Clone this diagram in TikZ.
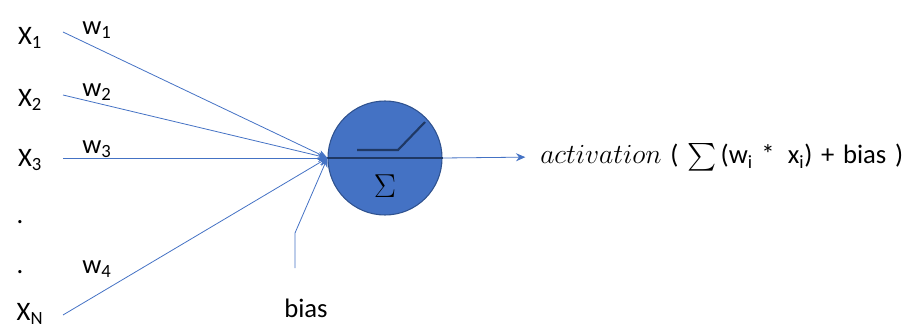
\documentclass[tikz,border=0pt]{standalone}
\usepackage{amsmath}
\usepackage{fontspec}
\setmainfont{Carlito}
\usetikzlibrary{arrows.meta}
\definecolor{nblue}{HTML}{4472C4}
\definecolor{ndark}{HTML}{1F3864}
\definecolor{nedge}{HTML}{2F528F}
\newcommand{\bigmath}[1]{{\fontsize{21}{24}\selectfont$#1$}}
\begin{document}
\begin{tikzpicture}[x=0.75pt,y=-0.75pt,
    lbl/.style={font=\fontsize{20}{23}\selectfont, inner sep=0pt},
    wire/.style={nblue, line width=0.6pt},
    arr/.style={wire, -{Stealth[length=7pt,width=6pt]}},
    neuron/.style={draw=nedge, fill=nblue, circle, minimum size=114pt*0.75, inner sep=0pt, line width=0.8pt}
]
\useasboundingbox (0,0) rectangle (920,331);

% inputs
\node[lbl] (x1) at (30,38) {X\textsubscript{1}};
\node[lbl] (x2) at (30,100) {X\textsubscript{2}};
\node[lbl] (x3) at (30,160) {X\textsubscript{3}};
\node[lbl] (d1) at (20,222) {.};
\node[lbl] (d2) at (20,272) {.};
\node[lbl] (xn) at (30,314) {X\textsubscript{N}};

\coordinate (s1) at (63,32);
\coordinate (s2) at (63,95);
\coordinate (s3) at (63,158);
\coordinate (sn) at (63,315);

% weights
\node[lbl] (w1) at (97,30) {w\textsubscript{1}};
\node[lbl] (w2) at (97,92) {w\textsubscript{2}};
\node[lbl] (w3) at (97,149) {w\textsubscript{3}};
\node[lbl] (w4) at (97,269) {w\textsubscript{4}};

% neuron
\node[neuron] (sum) at (385,158) {};
\node[font=\fontsize{30}{32}\selectfont] (sig) at (385,186) {$\Sigma$};
\draw[ndark, line width=1.6pt] (sum.west) -- (sum.east);
\draw[ndark, line width=1.6pt] (357,150) -- (398,150) -- (425,122);

\foreach \s in {s1,s2,s3,sn} {
  \draw[arr] (\s) -- (sum.west);
}

% bias
\node[lbl] (bias) at (306,308) {bias};
\coordinate (b0) at (295,268);
\coordinate (b1) at (295,233);
\draw[arr] (b0) -- (b1) -- (sum.west);

% output
\node[lbl, anchor=west] (out) at (540,157) {\spaceskip=6.5pt\bigmath{activation} ( \bigmath{\sum}\,(w\textsubscript{i} * \,x\textsubscript{i}) + bias )};
\draw[arr, shorten >=11pt] (sum.east) -- (out.west);
\end{tikzpicture}
\end{document}
